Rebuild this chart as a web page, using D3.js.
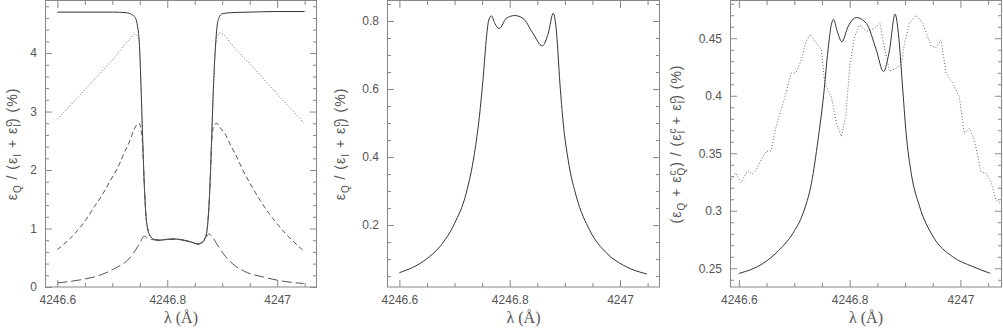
<!DOCTYPE html>
<html lang="en">
<head>
<meta charset="UTF-8">
<title>Polarization ratios vs wavelength</title>
<script src="https://d3js.org/d3.v7.min.js"></script>
<style>
  html, body { margin: 0; padding: 0; background: #fff; }
  svg { display: block; font-family: "Liberation Sans", Arial, sans-serif; }
  .tick text { fill: #555; font-size: 12px; }
  .tick line { stroke: #888; }
  .frame { fill: none; stroke: #888; stroke-width: 1; }
  .curve { fill: none; stroke-linejoin: round; stroke-width: 1; }
  .axis-title { fill: #555; }
</style>
</head>
<body>
<div id="chart"></div>
<script>
// ---- data ----
// panel 1 : four curves
const p1SolidX = [4246.600, 4246.650, 4246.700, 4246.725, 4246.735, 4246.742, 4246.746, 4246.749, 4246.752, 4246.755,
  4246.758, 4246.761, 4246.765, 4246.770, 4246.777, 4246.785, 4246.800, 4246.815, 4246.830, 4246.845, 4246.856,
  4246.863, 4246.868, 4246.872, 4246.875, 4246.878, 4246.881, 4246.884, 4246.887, 4246.890, 4246.894, 4246.900,
  4246.915, 4246.950, 4247.000, 4247.050];
const p1SolidY = [4.70, 4.70, 4.70, 4.69, 4.66, 4.60, 4.45, 4.20, 3.50, 2.60,
  1.80, 1.25, 0.97, 0.86, 0.81, 0.80, 0.815, 0.82, 0.80, 0.765, 0.735,
  0.76, 0.82, 0.95, 1.25, 1.80, 2.60, 3.40, 4.00, 4.40, 4.60, 4.67,
  4.69, 4.70, 4.71, 4.71];

const p1DotX = [4246.600, 4246.625, 4246.650, 4246.677, 4246.700, 4246.725, 4246.733, 4246.740, 4246.745, 4246.749,
  4246.752, 4246.755, 4246.758, 4246.761, 4246.765, 4246.770, 4246.777, 4246.785, 4246.800, 4246.815, 4246.830,
  4246.845, 4246.856, 4246.863, 4246.868, 4246.872, 4246.875, 4246.878, 4246.881, 4246.884, 4246.887, 4246.891,
  4246.895, 4246.900, 4246.920, 4246.950, 4246.977, 4247.000, 4247.025, 4247.048];
const p1DotY = [2.87, 3.12, 3.37, 3.65, 3.88, 4.17, 4.25, 4.32, 4.30, 4.18,
  3.50, 2.60, 1.80, 1.25, 0.97, 0.86, 0.81, 0.80, 0.815, 0.82, 0.80,
  0.765, 0.735, 0.76, 0.82, 0.95, 1.25, 1.80, 2.60, 3.40, 4.00, 4.28,
  4.34, 4.33, 4.11, 3.82, 3.54, 3.30, 3.05, 2.81];

const p1ShortX = [4246.600, 4246.620, 4246.637, 4246.652, 4246.667, 4246.682, 4246.697, 4246.710, 4246.721, 4246.731,
  4246.739, 4246.745, 4246.749, 4246.752, 4246.755, 4246.758, 4246.761, 4246.765, 4246.770, 4246.777, 4246.785,
  4246.800, 4246.815, 4246.830, 4246.845, 4246.856, 4246.863, 4246.868, 4246.872, 4246.875, 4246.878, 4246.881,
  4246.885, 4246.890, 4246.895, 4246.905, 4246.914, 4246.925, 4246.938, 4246.955, 4246.969, 4246.985, 4246.999,
  4247.025, 4247.048];
const p1ShortY = [0.64, 0.80, 0.97, 1.15, 1.37, 1.58, 1.83, 2.04, 2.28, 2.48,
  2.68, 2.78, 2.80, 2.70, 2.45, 1.80, 1.25, 0.97, 0.86, 0.81, 0.80,
  0.815, 0.82, 0.80, 0.765, 0.735, 0.76, 0.82, 0.95, 1.25, 1.80, 2.50,
  2.76, 2.80, 2.74, 2.62, 2.45, 2.25, 1.99, 1.70, 1.48, 1.26, 1.09,
  0.82, 0.62];

const p1LongX = [4246.600, 4246.646, 4246.680, 4246.707, 4246.728, 4246.737, 4246.746, 4246.752, 4246.758, 4246.764,
  4246.770, 4246.777, 4246.785, 4246.800, 4246.815, 4246.830, 4246.845, 4246.856, 4246.863, 4246.870, 4246.876,
  4246.882, 4246.890, 4246.902, 4246.918, 4246.940, 4246.975, 4247.010, 4247.048];
const p1LongY = [0.07, 0.13, 0.21, 0.33, 0.46, 0.56, 0.69, 0.79, 0.87, 0.83,
  0.81, 0.81, 0.80, 0.815, 0.82, 0.80, 0.765, 0.735, 0.76, 0.85, 0.905,
  0.86, 0.74, 0.57, 0.405, 0.27, 0.17, 0.10, 0.06];

// panel 2 : one curve
const p2X = [4246.600, 4246.648, 4246.673, 4246.700, 4246.721, 4246.736, 4246.745, 4246.752, 4246.758, 4246.762,
  4246.767, 4246.773, 4246.781, 4246.794, 4246.809, 4246.824, 4246.842, 4246.859, 4246.870, 4246.879, 4246.885,
  4246.891, 4246.897, 4246.906, 4246.921, 4246.945, 4246.976, 4247.006, 4247.049];
const p2Y = [0.060, 0.099, 0.136, 0.205, 0.293, 0.410, 0.519, 0.636, 0.754, 0.803,
  0.815, 0.793, 0.778, 0.808, 0.816, 0.808, 0.764, 0.727, 0.764, 0.823, 0.764,
  0.617, 0.500, 0.391, 0.283, 0.185, 0.117, 0.082, 0.056];

// panel 3 : model (solid) and observation (dotted)
const p3SolidX = [4246.600, 4246.643, 4246.673, 4246.697, 4246.716, 4246.731, 4246.743, 4246.752, 4246.761, 4246.767,
  4246.771, 4246.777, 4246.786, 4246.797, 4246.812, 4246.830, 4246.848, 4246.861, 4246.872, 4246.882, 4246.888,
  4246.895, 4246.902, 4246.911, 4246.926, 4246.950, 4246.986, 4247.022, 4247.053];
const p3SolidY = [0.2455, 0.254, 0.266, 0.280, 0.298, 0.324, 0.362, 0.396, 0.440, 0.462,
  0.4665, 0.457, 0.447, 0.460, 0.468, 0.463, 0.440, 0.421, 0.440, 0.471, 0.454,
  0.411, 0.367, 0.333, 0.304, 0.278, 0.260, 0.2515, 0.2457];

const p3DotX = [4246.584, 4246.594, 4246.604, 4246.616, 4246.624, 4246.631, 4246.643, 4246.649, 4246.658, 4246.667,
  4246.685, 4246.694, 4246.703, 4246.712, 4246.721, 4246.729, 4246.740, 4246.749, 4246.755, 4246.761, 4246.767,
  4246.776, 4246.785, 4246.793, 4246.800, 4246.809, 4246.818, 4246.830, 4246.845, 4246.855, 4246.860, 4246.872,
  4246.884, 4246.893, 4246.899, 4246.908, 4246.920, 4246.932, 4246.947, 4246.956, 4246.965, 4246.974, 4246.986,
  4246.998, 4247.007, 4247.016, 4247.025, 4247.037, 4247.046, 4247.055, 4247.064, 4247.073];
const p3DotY = [0.325, 0.333, 0.3245, 0.335, 0.332, 0.3355, 0.347, 0.3515, 0.352, 0.373,
  0.402, 0.4195, 0.420, 0.430, 0.447, 0.4535, 0.4457, 0.440, 0.411, 0.405, 0.399,
  0.376, 0.3645, 0.382, 0.425, 0.4515, 0.4616, 0.456, 0.4587, 0.463, 0.4486, 0.421,
  0.424, 0.4268, 0.4457, 0.463, 0.470, 0.463, 0.443, 0.4419, 0.4486, 0.4196, 0.411,
  0.399, 0.367, 0.3717, 0.3616, 0.334, 0.3326, 0.3254, 0.3094, 0.306];

// tick labels
const xTicks = [4246.6, 4246.8, 4247];
const p1YTicks = [0, 1, 2, 3, 4];
const p2YTicks = [0.2, 0.4, 0.6, 0.8];
const p3YTicks = [0.25, 0.3, 0.35, 0.4, 0.45];

// ---- layout ----
const W = 1003, H = 330;
const plotTop = 1, plotBottom = 287;

const zip = (xs, ys) => xs.map((x, i) => ({x: x, y: ys[i]}));

// label pieces: [text, baseline offset, dx]
const labelRatio = [["ε",0],["Q",4],[" / (",0],["ε",0],["I",4],[" + ",0],["ε",0],["c",-5],["I",4,-6],[")  (%)",0]];
const labelSum = [["(ε",0],["Q",4],[" + ",0],["ε",0],["c",-5],["Q",4,-6],[") / (",0],["ε",0],["c",-5],["I",4,-6],
                  [" + ",0],["ε",0],["c",-5],["I",4,-6],[")  (%)",0]];

const panels = [
  {x0: 45, x1: 317, xDom: [4246.5775, 4247.0725], yDom: [0, 4.89], yTicks: p1YTicks, yMinor: 0.2,
   yFmt: d3.format("d"), labelX: 17, label: labelRatio,
   series: [
     {data: zip(p1SolidX, p1SolidY), stroke: "#333", dash: null},
     {data: zip(p1DotX, p1DotY), stroke: "#666", dash: "1,2"},
     {data: zip(p1ShortX, p1ShortY), stroke: "#555", dash: "5,3"},
     {data: zip(p1LongX, p1LongY), stroke: "#555", dash: "10,4"}
   ]},
  {x0: 387, x1: 660, xDom: [4246.5775, 4247.0725], yDom: [0.018, 0.8588], yTicks: p2YTicks, yMinor: 0.05,
   yFmt: d3.format(".1f"), labelX: 345, label: labelRatio,
   series: [
     {data: zip(p2X, p2Y), stroke: "#333", dash: null}
   ]},
  {x0: 730, x1: 1002, xDom: [4246.584, 4247.075], yDom: [0.2337, 0.4824], yTicks: p3YTicks, yMinor: 0.01,
   yFmt: d => String(+d.toFixed(2)), labelX: 681, label: labelSum,
   series: [
     {data: zip(p3SolidX, p3SolidY), stroke: "#333", dash: null, curve: d3.curveMonotoneX},
     {data: zip(p3DotX, p3DotY), stroke: "#666", dash: "1,2", curve: d3.curveLinear}
   ]}
];

const svg = d3.select("#chart").append("svg")
  .attr("width", W)
  .attr("height", H);

function minorTicks(dom, step, majors) {
  const lo = Math.ceil(dom[0] / step - 1e-6), hi = Math.floor(dom[1] / step + 1e-6);
  return d3.range(lo, hi + 1).map(k => +(k * step).toFixed(6))
    .filter(v => !majors.some(m => Math.abs(m - v) < step / 10));
}

panels.forEach(p => {
  const x = d3.scaleLinear().domain(p.xDom).range([p.x0, p.x1]);
  const y = d3.scaleLinear().domain(p.yDom).range([plotBottom, plotTop]);
  const g = svg.append("g");

  const xMinor = minorTicks(p.xDom, 0.05, xTicks);
  const yMinor = minorTicks(p.yDom, p.yMinor, p.yTicks);

  // inward ticks on all four sides
  const axes = [
    {ax: d3.axisBottom(x), t: `translate(0,${plotBottom})`, major: xTicks, minor: xMinor, fmt: d3.format("")},
    {ax: d3.axisTop(x), t: `translate(0,${plotTop})`, major: xTicks, minor: xMinor, fmt: null},
    {ax: d3.axisLeft(y), t: `translate(${p.x0},0)`, major: p.yTicks, minor: yMinor, fmt: p.yFmt},
    {ax: d3.axisRight(y), t: `translate(${p.x1},0)`, major: p.yTicks, minor: yMinor, fmt: null}
  ];
  axes.forEach(a => {
    const gMaj = g.append("g").attr("transform", a.t)
      .call(a.ax.tickValues(a.major).tickSize(-7).tickPadding(8)
        .tickFormat(a.fmt ? a.fmt : () => ""));
    gMaj.select(".domain").remove();
    const gMin = g.append("g").attr("transform", a.t)
      .call(a.ax.tickValues(a.minor).tickSize(-4).tickFormat(() => ""));
    gMin.select(".domain").remove();
  });
  g.selectAll(".tick text").attr("font-family", null).attr("font-size", null);

  g.append("rect").attr("class", "frame")
    .attr("x", p.x0 + 0.5).attr("y", plotTop - 0.5)
    .attr("width", p.x1 - p.x0 - 1).attr("height", plotBottom - plotTop + 0.5);

  const clipId = "clip" + p.x0;
  svg.append("clipPath").attr("id", clipId).append("rect")
    .attr("x", p.x0).attr("y", plotTop - 1).attr("width", p.x1 - p.x0).attr("height", plotBottom - plotTop + 2);

  p.series.forEach(s => {
    const line = d3.line().x(d => x(d.x)).y(d => y(d.y)).curve(s.curve || d3.curveMonotoneX);
    g.append("path").attr("class", "curve")
      .attr("clip-path", `url(#${clipId})`)
      .attr("d", line(s.data))
      .attr("stroke", s.stroke)
      .attr("stroke-dasharray", s.dash);
  });

  // x axis title
  g.append("text").attr("class", "axis-title")
    .attr("x", (p.x0 + p.x1) / 2).attr("y", 323)
    .attr("text-anchor", "middle")
    .attr("font-family", "'Liberation Serif', serif")
    .attr("font-size", 16)
    .text("λ (Å)");

  // y axis title with sub/superscripts
  const yt = g.append("text").attr("class", "axis-title")
    .attr("transform", `translate(${p.labelX},144) rotate(-90)`)
    .attr("text-anchor", "middle")
    .attr("font-size", 14)
    .attr("letter-spacing", 1);
  let cur = 0;
  p.label.forEach(([s, off, dx]) => {
    const t = yt.append("tspan").attr("dy", off - cur).text(s);
    if (off !== 0) t.attr("font-size", 10);
    if (dx) t.attr("dx", dx);
    cur = off;
  });
});
</script>
</body>
</html>
